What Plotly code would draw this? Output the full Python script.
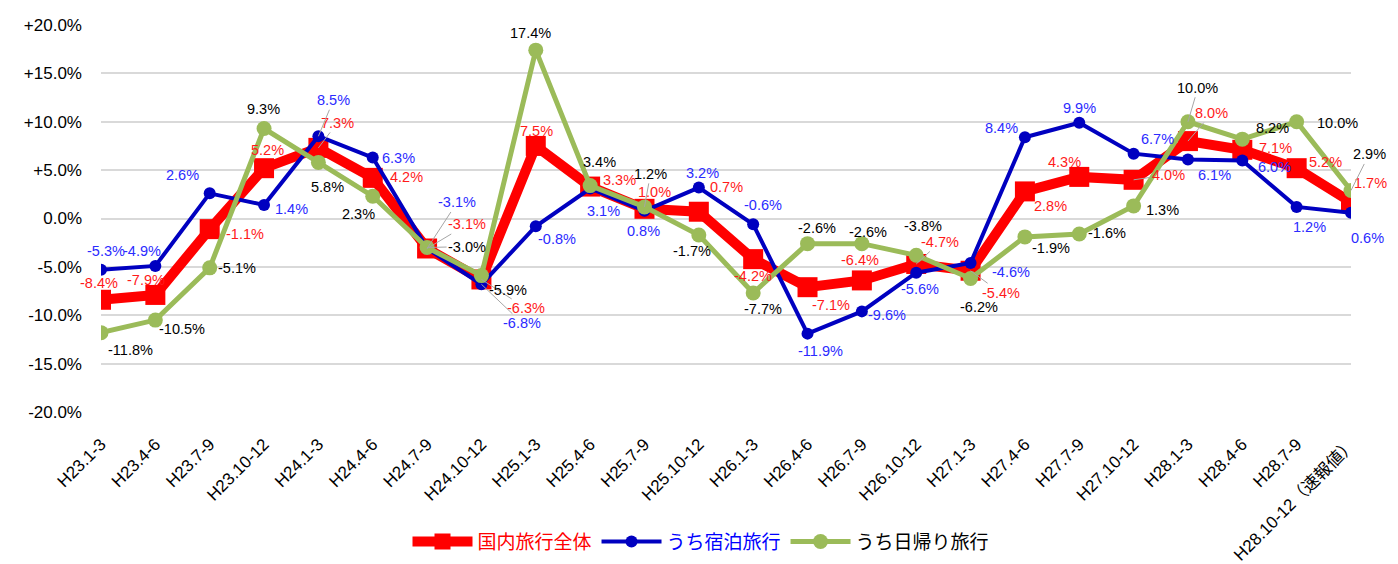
import plotly.graph_objects as go

categories = [
    "H23.1-3", "H23.4-6", "H23.7-9", "H23.10-12", "H24.1-3", "H24.4-6",
    "H24.7-9", "H24.10-12", "H25.1-3", "H25.4-6", "H25.7-9", "H25.10-12",
    "H26.1-3", "H26.4-6", "H26.7-9", "H26.10-12", "H27.1-3", "H27.4-6",
    "H27.7-9", "H27.10-12", "H28.1-3", "H28.4-6", "H28.7-9", "H28.10-12（速報値）",
]

total = [-8.4, -7.9, -1.1, 5.2, 7.3, 4.2, -3.1, -6.3, 7.5, 3.3, 1.0, 0.7,
         -4.2, -7.1, -6.4, -4.7, -5.4, 2.8, 4.3, 4.0, 8.0, 7.1, 5.2, 1.7]
stay = [-5.3, -4.9, 2.6, 1.4, 8.5, 6.3, -3.1, -6.8, -0.8, 3.1, 0.8, 3.2,
        -0.6, -11.9, -9.6, -5.6, -4.6, 8.4, 9.9, 6.7, 6.1, 6.0, 1.2, 0.6]
daytrip = [-11.8, -10.5, -5.1, 9.3, 5.8, 2.3, -3.0, -5.9, 17.4, 3.4, 1.2, -1.7,
           -7.7, -2.6, -2.6, -3.8, -6.2, -1.9, -1.6, 1.3, 10.0, 8.2, 10.0, 2.9]

y_ticks = [20, 15, 10, 5, 0, -5, -10, -15, -20]
y_tick_text = ["+20.0%", "+15.0%", "+10.0%", "+5.0%", "0.0%",
               "-5.0%", "-10.0%", "-15.0%", "-20.0%"]

# label offsets in pixels (dx, dy) from each point, and which ones get a leader line
red_off = [(-2, -17), (-9, -15), (35, 5), (3, -18), (19, -25), (34, -1),
           (40, -24), (45, 29), (1, -15), (29, -7), (10, -17), (28, -25),
           (0, 17), (23, 18), (-2, -20), (24, -22), (30, 22), (26, 15),
           (-15, -15), (35, -5), (24, -28), (33, -2), (29, -6), (19, -19)]
red_lead = {4, 6, 7, 15, 16, 19, 20}
blue_off = [(5, -19), (-13, -15), (-27, -18), (27, 4), (15, -36), (26, 0),
            (30, -46), (41, 39), (21, 13), (13, 22), (-1, 20), (4, -15),
            (10, -19), (13, 17), (25, 4), (4, 16), (40, 9), (-23, -9),
            (0, -15), (24, -15), (27, 16), (32, 7), (13, 20), (16, 25)]
blue_lead = {4, 6, 7}
green_off = [(29, 17), (27, 9), (27, 0), (-1, -20), (9, 25), (-14, 18),
             (40, -1), (27, 14), (-5, -17), (9, -24), (6, -33), (-7, 16),
             (10, 16), (9, -16), (6, -12), (7, -29), (8, 29), (26, 11),
             (28, -1), (29, 4), (10, -34), (30, -11), (41, 1), (18, -36)]
green_lead = {6, 10, 20, 23}

fig = go.Figure()

fig.add_trace(go.Scatter(
    x=categories, y=total, mode="lines+markers",
    name="<span style='color:#FF0000'>国内旅行全体</span>",
    line=dict(color="#FF0000", width=10),
    marker=dict(symbol="square", size=20, color="#FF0000"),
))
fig.add_trace(go.Scatter(
    x=categories, y=stay, mode="lines+markers",
    name="<span style='color:#0000FF'>うち宿泊旅行</span>",
    line=dict(color="#0000C0", width=4),
    marker=dict(symbol="circle", size=12, color="#0000C0"),
))
fig.add_trace(go.Scatter(
    x=categories, y=daytrip, mode="lines+markers",
    name="うち日帰り旅行",
    line=dict(color="#9BBB59", width=5),
    marker=dict(symbol="circle", size=15, color="#9BBB59"),
))

# data labels
for values, offs, leads, color in [
    (total, red_off, red_lead, "#FF1A1A"),
    (stay, blue_off, blue_lead, "#2B2BFF"),
    (daytrip, green_off, green_lead, "#000000"),
]:
    for i, v in enumerate(values):
        dx, dy = offs[i]
        fig.add_annotation(
            x=categories[i], y=v, text=f"{v:.1f}%",
            showarrow=True, ax=dx, ay=dy, arrowhead=0, arrowwidth=1,
            arrowcolor="#A6A6A6" if i in leads else "rgba(0,0,0,0)",
            font=dict(family="Liberation Sans, Arial", size=14.5, color=color),
        )

fig.update_xaxes(
    type="category", range=[0, len(categories) - 1], automargin=False,
    tickangle=-45, showgrid=False, showline=False, zeroline=False,
    ticklabelstandoff=18,
    tickfont=dict(family="Liberation Sans, Noto Sans CJK JP", size=17, color="#000000"),
)
fig.update_yaxes(
    range=[-20, 20], tickvals=y_ticks, ticktext=y_tick_text, automargin=False,
    showgrid=True, gridcolor="#D9D9D9", gridwidth=2, zeroline=False,
    ticklabelstandoff=18,
    tickfont=dict(family="Liberation Sans, Arial", size=17, color="#000000"),
)

# the page body adds an 8px offset, so the margins are shifted to compensate
fig.update_layout(
    width=1398, height=564,
    margin=dict(l=93, r=55, t=17, b=160),
    plot_bgcolor="white", paper_bgcolor="white",
    showlegend=True,
    legend=dict(
        orientation="h", x=0.48, xanchor="center", y=-0.335, yanchor="middle",
        font=dict(family="Noto Sans CJK JP", size=19, color="#000000"),
        itemwidth=60,
    ),
)

fig.write_html("out.html")
